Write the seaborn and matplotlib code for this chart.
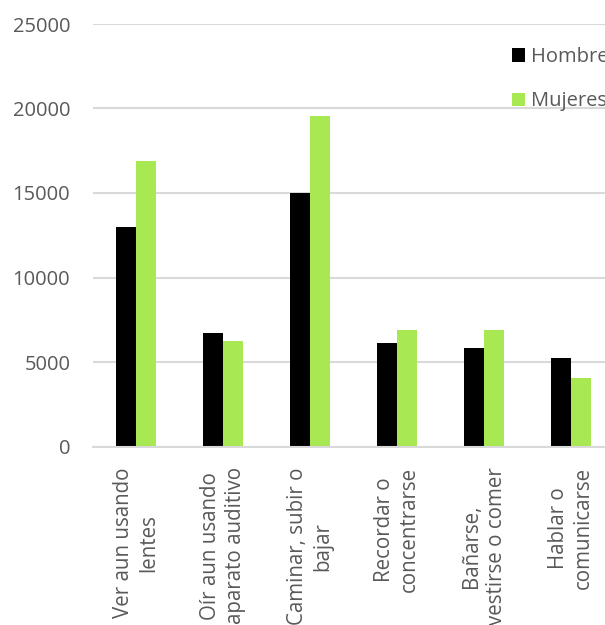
import matplotlib
matplotlib.use("Agg")
import matplotlib.pyplot as plt
import seaborn as sns
import pandas as pd

categorias = ["Ver aun usando\nlentes", "Oír aun usando\naparato auditivo",
              "Caminar, subir o\nbajar", "Recordar o\nconcentrarse",
              "Bañarse,\nvestirse o comer", "Hablar o\ncomunicarse"]
hombres = [13000, 6730, 14990, 6120, 5840, 5230]
mujeres = [16880, 6250, 19540, 6870, 6910, 4060]
series = ["Hombres", "Mujeres"]
colores = ["#000000", "#A8E853"]
yticks = [0, 5000, 10000, 15000, 20000, 25000]

df = pd.DataFrame({
    "cat": categorias * 2,
    "valor": hombres + mujeres,
    "serie": [series[0]] * len(categorias) + [series[1]] * len(categorias),
})

sns.set_style("white")
plt.rcParams["font.family"] = ["Open Sans", "DejaVu Sans"]

fig = plt.figure(figsize=(6.05, 6.25), dpi=100)
ax = fig.add_axes([92.5 / 605, (625 - 446.5) / 625, 522 / 605, (446.5 - 24) / 625])

sns.barplot(data=df, x="cat", y="valor", hue="serie", palette=colores,
            width=0.47, gap=0, linewidth=0, saturation=1, ax=ax, legend=True)

ax.set_ylim(0, 25000)
ax.set_yticks(yticks)
ax.set_yticklabels([str(v) for v in yticks])
ax.set_xlim(-0.5, len(categorias) - 0.5)
ax.yaxis.grid(True, color="#d9d9d9", linewidth=1.5)
ax.set_axisbelow(True)
for s in ["left", "right", "top"]:
    ax.spines[s].set_visible(False)
ax.spines["bottom"].set_color("#d9d9d9")
ax.spines["bottom"].set_linewidth(1.5)
ax.set_xlabel("")
ax.set_ylabel("")
ax.tick_params(axis="y", length=0, pad=16, labelsize=14.5, labelcolor="#595959")
ax.tick_params(axis="x", length=0, pad=15, labelsize=14.8, labelcolor="#595959")
for lbl in ax.get_xticklabels():
    lbl.set_rotation(90)
    lbl.set_ha("center")
    lbl.set_va("top")
    lbl.set_multialignment("center")
    lbl.set_linespacing(1.25)

leg = ax.legend(loc="upper left", frameon=False, fontsize=14.5,
                handlelength=0.62, handleheight=0.62, handletextpad=0.3,
                labelspacing=1.2, borderpad=0)
leg.set_bbox_to_anchor((502 / 605, 1 - 37 / 625), transform=fig.transFigure)
for t in leg.get_texts():
    t.set_color("#595959")

fig.savefig("out.png", dpi=100)
